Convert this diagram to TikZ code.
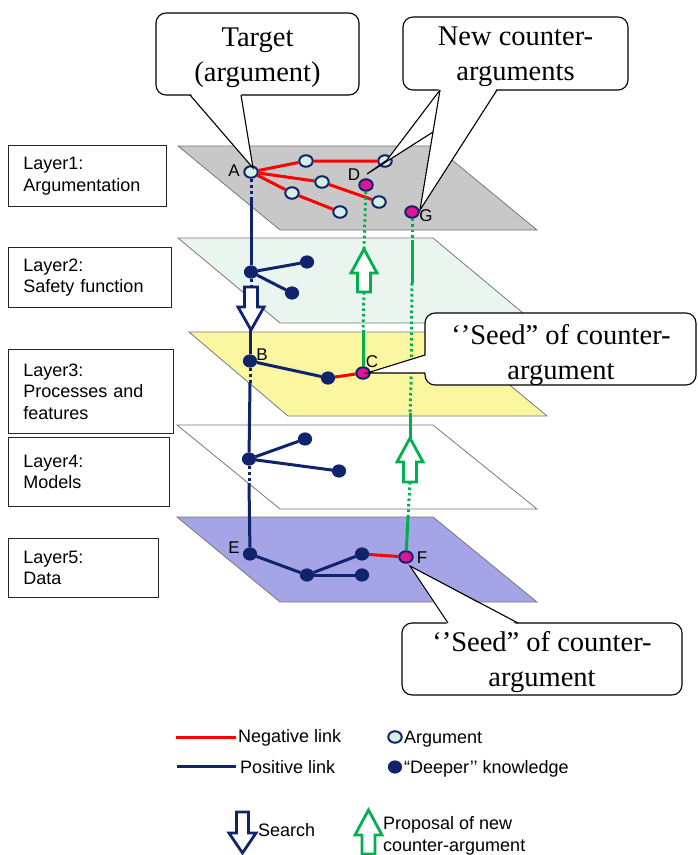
\documentclass[tikz,border=0pt]{standalone}
\usepackage{fontspec}
\setmainfont{Liberation Sans}
\newfontfamily\callfont{Liberation Serif}
\usetikzlibrary{shapes.geometric}
\definecolor{navy}{RGB}{16,36,110}
\definecolor{negred}{RGB}{255,0,0}
\definecolor{propgreen}{RGB}{0,176,80}
\definecolor{argfill}{RGB}{212,240,228}
\definecolor{seedmag}{RGB}{224,20,150}
\definecolor{planeA}{RGB}{200,200,200}
\definecolor{planeB}{RGB}{234,245,240}
\definecolor{planeC}{RGB}{250,247,160}
\definecolor{planeE}{RGB}{164,164,230}
\definecolor{edgegray}{RGB}{120,120,120}
\begin{document}
\begin{tikzpicture}[x=1pt,y=-1pt,
  plane/.style={draw=edgegray, line width=0.8},
  layerbox/.style={draw=black!85, line width=0.9, rectangle, anchor=north west,
    align=left, inner xsep=15, inner ysep=0, font=\fontsize{18}{21.5}\selectfont},
  argnode/.style={ellipse, draw=navy, line width=2, fill=argfill,
    minimum width=13.5, minimum height=11.5, inner sep=0},
  deepnode/.style={ellipse, draw=navy, line width=1.2, fill=navy,
    minimum width=13, minimum height=12, inner sep=0},
  seednode/.style={ellipse, draw=navy, line width=2, fill=seedmag,
    minimum width=13.5, minimum height=11.5, inner sep=0},
  neglink/.style={draw=negred, line width=3},
  poslink/.style={draw=navy, line width=3},
  posdot/.style={poslink, dash pattern=on 3 off 3},
  proplink/.style={draw=propgreen, line width=3},
  propdot/.style={proplink, dash pattern=on 2.5 off 3},
  tag/.style={font=\fontsize{17}{17}\selectfont, inner sep=0},
  callbox/.style={draw=black, line width=1.1, fill=white, rounded corners=10},
  callptr/.style={draw=black, line width=1.1},
  calltext/.style={align=center, inner sep=0, font=\callfont\fontsize{28.5}{35}\selectfont},
  legtext/.style={anchor=west, inner sep=0, font=\fontsize{18}{22}\selectfont, align=left},
  searcharrow/.style={draw=navy, line width=2.8, fill=white, line join=miter},
  proparrow/.style={draw=propgreen, line width=2.8, fill=white, line join=miter}]

\useasboundingbox (0,0) rectangle (698,855);

% ---- the five layer planes
\filldraw[plane, fill=planeA] (178,146) -- (435,146) -- (537,230) -- (280,230) -- cycle;
\filldraw[plane, fill=planeB] (178,238) -- (433,238) -- (535,323) -- (280,323) -- cycle;
\filldraw[plane, fill=planeC] (189,332) -- (446,332) -- (547,416) -- (288,416) -- cycle;
\filldraw[plane, fill=white]  (177,425) -- (433,425) -- (537,509) -- (280,509) -- cycle;
\filldraw[plane, fill=planeE] (177,517) -- (433,517) -- (537,602) -- (280,602) -- cycle;

% ---- layer captions
\node[layerbox, text width=128, minimum height=61] (L1) at (8,145) {Layer1:\\Argumentation};
\node[layerbox, text width=133, minimum height=60] (L2) at (8,247) {Layer2:\\Safety function};
\node[layerbox, text width=135, minimum height=84] (L3) at (8,349) {Layer3:\\Processes and\\features};
\node[layerbox, text width=131, minimum height=69] (L4) at (8,437) {Layer4:\\Models};
\node[layerbox, text width=120, minimum height=59] (L5) at (8,538) {Layer5:\\Data};

% ---- knowledge nodes
\node[argnode] (A)  at (251,172) {};
\node[argnode] (a1) at (306,161) {};
\node[argnode] (a2) at (385,161) {};
\node[argnode] (a3) at (322,182) {};
\node[argnode] (a4) at (379,202) {};
\node[argnode] (a5) at (292,193) {};
\node[argnode] (a6) at (340,212) {};
\node[seednode] (D) at (366,185) {};
\node[seednode] (G) at (412,212) {};

\node[deepnode] (k1) at (251,272) {};
\node[deepnode] (k2) at (307,262) {};
\node[deepnode] (k3) at (292,293) {};

\node[deepnode] (B)  at (250,361) {};
\node[deepnode] (b1) at (328,378) {};
\node[seednode] (C)  at (363,373) {};

\node[deepnode] (m1) at (249,459) {};
\node[deepnode] (m2) at (305,439) {};
\node[deepnode] (m3) at (339,471) {};

\node[deepnode] (E)  at (250,554) {};
\node[deepnode] (e1) at (307,575) {};
\node[deepnode] (e2) at (362,554) {};
\node[deepnode] (e3) at (362,575) {};
\node[seednode] (F)  at (406,557) {};

% ---- links inside the layers
\draw[neglink] (A) -- (a1) -- (a2);
\draw[neglink] (A) -- (a3) -- (a4);
\draw[neglink] (A) -- (a5) -- (a6);
\draw[poslink] (k1) -- (k2);
\draw[poslink] (k1) -- (k3);
\draw[poslink] (B) -- (b1);
\draw[neglink] (b1) -- (C);
\draw[poslink] (m1) -- (m2);
\draw[poslink] (m1) -- (m3);
\draw[poslink] (E) -- (e1);
\draw[poslink] (e1) -- (e2);
\draw[poslink] (e1) -- (e3);
\draw[neglink] (e2) -- (F);

% ---- search path down through the layers
\coordinate (s1) at (251,200);
\coordinate (s2) at (251,287);
\coordinate (s3) at (250,330);
\coordinate (s4) at (250,383);
\coordinate (s5) at (249,483);
\draw[posdot] (A) -- (s1);
\draw[poslink] (s1) -- (k1);
\draw[posdot] (k1) -- (s2);
\draw[poslink] (s3) -- (B);
\draw[posdot] (B) -- (s4);
\draw[poslink] (s4) -- (m1);
\draw[posdot] (m1) -- (s5);
\draw[poslink] (s5) -- (E);
\draw[searcharrow] (244.5,287) -- (257.5,287) -- (257.5,307) -- (264,307) -- (251,330)
  -- (238,307) -- (244.5,307) -- cycle;

% ---- proposal paths up through the layers
\coordinate (p1) at (364,249);
\coordinate (p2) at (364,292);
\coordinate (p3) at (363,330);
\draw[propdot] (D) -- (p1);
\draw[propdot] (p2) -- (p3);
\draw[proplink] (p3) -- (C);
\draw[proparrow] (364,249) -- (377,273) -- (370.5,273) -- (370.5,292) -- (357.5,292)
  -- (357.5,273) -- (351,273) -- cycle;

\coordinate (q1) at (412,240);
\coordinate (q2) at (412,283);
\coordinate (q3) at (411,385);
\coordinate (q4) at (410,413);
\coordinate (q5) at (410,438);
\coordinate (q6) at (410,482);
\coordinate (q7) at (408,517);
\draw[propdot] (G) -- (q1);
\draw[proplink] (q1) -- (q2);
\draw[propdot] (q2) -- (q3) -- (q4);
\draw[proplink] (q4) -- (q5);
\draw[propdot] (q6) -- (q7);
\draw[proplink] (q7) -- (F);
\draw[proparrow] (410,438) -- (423,462) -- (416.5,462) -- (416.5,482) -- (403.5,482)
  -- (403.5,462) -- (397,462) -- cycle;

% ---- node letters
\node[tag] (tA) at (234,171) {A};
\node[tag] (tB) at (262,355) {B};
\node[tag] (tC) at (372,362) {C};
\node[tag] (tD) at (354,175) {D};
\node[tag] (tE) at (234,548) {E};
\node[tag] (tF) at (422,558) {F};
\node[tag] (tG) at (426,216) {G};

% ---- callouts
\draw[callbox] (156,13) rectangle (359,95);
\fill[white] (190,93) -- (253,168) -- (241,93) -- cycle;
\draw[callptr] (190,95) -- (253,168) -- (241,95);
\node[calltext] (target) at (257.5,58) {Target\\(argument)};

\draw[callbox] (403,17) rectangle (628,90);
\fill[white] (440,88) -- (387,160) -- (367,174) -- (433,132) -- (420,210) -- (497,88) -- cycle;
\draw[callptr] (440,90) -- (387,160) -- (367,174) -- (433,132);
\draw[callptr] (440,90) -- (420,210) -- (497,90);
\node[calltext] (newca) at (515.5,57) {New counter-\\arguments};

\draw[callbox] (425,313) rectangle (696,385);
\fill[white] (427,355) -- (367,373) -- (427,373) -- cycle;
\draw[callptr] (425,355) -- (367,373) -- (425,373);
\node[calltext] (seedA) at (561,355.5) {‘’Seed” of counter-\\argument};

\draw[callbox] (402,623) rectangle (682,695);
\fill[white] (448,625) -- (410,566) -- (518,625) -- cycle;
\draw[callptr] (448,623) -- (410,566) -- (518,623);
\node[calltext] (seedB) at (542,662) {‘’Seed” of counter-\\argument};

% ---- legend
\coordinate (r1) at (176,737);
\coordinate (r2) at (236,737);
\draw[neglink] (r1) -- (r2);
\node[legtext] (lneg) at (238,738) {Negative link};
\coordinate (u1) at (177,766);
\coordinate (u2) at (236,766);
\draw[poslink] (u1) -- (u2);
\node[legtext] (lpos) at (240,767) {Positive link};
\node[argnode] (legarg) at (395,737) {};
\node[legtext] (larg) at (404,739) {Argument};
\node[deepnode] (legdeep) at (395,767) {};
\node[legtext] (ldeep) at (404,769) {“Deeper’’ knowledge};
\draw[searcharrow] (236.5,812) -- (248.5,812) -- (248.5,833) -- (256,833) -- (242.5,853)
  -- (229,833) -- (236.5,833) -- cycle;
\node[legtext] (lsearch) at (258,830) {Search};
\draw[proparrow] (368.5,810) -- (382,835) -- (375,835) -- (375,854) -- (362,854)
  -- (362,835) -- (355,835) -- cycle;
\node[legtext] (lprop) at (383,836) {Proposal of new\\counter-argument};
\end{tikzpicture}
\end{document}
